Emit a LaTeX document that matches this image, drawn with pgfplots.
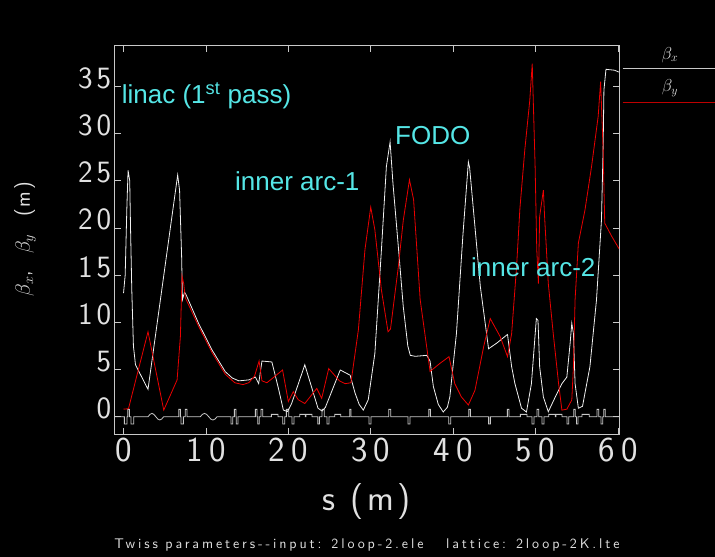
\documentclass[border=0pt]{standalone}
\usepackage{pgfplots}
\pgfplotsset{compat=1.18}
\usepackage{fontspec}
\newfontfamily\annfont{Liberation Sans}
\newfontfamily\xtf{lmsans17-regular.otf}[LetterSpace=18]
\newfontfamily\ytf{lmsans17-regular.otf}[LetterSpace=13]
\newfontfamily\lbf{lmsans17-regular.otf}[LetterSpace=10]
\newfontfamily\ttlf{lmsans10-regular.otf}[LetterSpace=20.5]
\definecolor{cyantext}{RGB}{85,230,230}
\definecolor{framegray}{RGB}{200,200,200}
\definecolor{curvewhite}{RGB}{240,240,240}
\definecolor{curvered}{RGB}{235,0,0}
\definecolor{legred}{RGB}{190,0,0}
\definecolor{labelgray}{RGB}{225,225,225}
\begin{document}
\begin{tikzpicture}
\path[use as bounding box, fill=black] (0pt,0pt) rectangle (715pt,557pt);
\begin{axis}[
  at={(114.8pt,123pt)}, anchor=south west, scale only axis,
  width=504.2pt, height=388.3pt,
  xmin=-1.06, xmax=60.13, ymin=-1.83, ymax=39.3,
  axis line style={draw=framegray, line width=0.9pt},
  xtick={0,10,...,60}, ytick={0,5,...,35},
  tick align=inside, major tick length=6pt,
  tick style={draw=framegray, line width=0.8pt},
  /pgf/number format/assume math mode=true,
  xticklabel style={font=\xtf\fontsize{35}{35}\selectfont, text=labelgray},
  yticklabel style={font=\ytf\fontsize{31}{31}\selectfont, text=labelgray, anchor=base east, yshift=-2pt},
  xlabel={s (m)},
  xlabel style={at={(axis description cs:0.4996,-0.175)}, anchor=center, font=\lbf\fontsize{36}{36}\selectfont, text=labelgray},
  ylabel={$\beta_x$,\ \ $\beta_y$\ \ (m)},
  ylabel style={at={(axis description cs:-0.178,0.502)}, anchor=center, font=\lbf\fontsize{21}{21}\selectfont, text=labelgray},
  clip=true,
]
% lattice element profile
\addplot[framegray, line width=0.8pt] coordinates {
(-1.06,0) (0.10,0)(0.10,-0.78)(0.42,-0.78)(0.42,0)
(0.50,0)(0.50,0.78)(0.71,0.78)(0.71,0)
(0.91,0)(0.91,-0.78)(1.23,-0.78)(1.23,0)
(2.97,0)(3.21,0.25)(3.45,0.35)(3.68,0.25)(3.92,0)(4.16,-0.25)(4.40,-0.35)(4.63,-0.25)(4.87,0)
(6.70,0)(6.70,0.78)(6.90,0.78)(6.90,0)
(6.98,0)(6.98,-0.78)(7.26,-0.78)(7.26,0)
(7.50,0)(7.50,0.78)(7.71,0.78)(7.71,0)
(9.32,0)(9.57,0.25)(9.83,0.35)(10.08,0.25)(10.34,0)(10.59,-0.25)(10.84,-0.35)(11.10,-0.25)(11.35,0)
(13.05,0)(13.05,-0.78)(13.25,-0.78)(13.25,0)
(13.45,0)(13.45,0.78)(13.65,0.78)(13.65,0)
(13.69,0)(13.69,-0.78)(13.90,-0.78)(13.90,0)
(16.00,0)(16.00,0.78)(16.20,0.78)(16.20,0)
(16.28,0)(16.28,-0.78)(16.48,-0.78)(16.48,0)
(16.69,0)(16.69,0.78)(16.89,0.78)(16.89,0)
(17.94,0)(17.94,0.25)(18.75,0.25)(18.75,0)
(19.32,0)(19.32,-0.78)(19.56,-0.78)(19.56,0)
(19.76,0)(19.76,0.78)(20.04,0.78)(20.04,0)
(20.45,0)(20.45,-0.78)(20.69,-0.78)(20.69,0)
(21.38,0)(21.38,0.25)(22.07,0.25)(22.07,0)
(22.15,0)(22.15,0.25)(22.88,0.25)(22.88,0)
(23.56,0)(23.56,-0.78)(23.77,-0.78)(23.77,0)
(24.09,0)(24.09,0.78)(24.37,0.78)(24.37,0)
(24.70,0)(24.70,-0.78)(24.94,-0.78)(24.94,0)
(25.63,0)(25.63,0.25)(26.36,0.25)(26.36,0)
(27.45,0)(27.45,0.78)(27.61,0.78)(27.61,0)
(29.79,0)(29.79,-0.78)(30.04,-0.78)(30.04,0)
(32.18,0)(32.18,0.78)(32.42,0.78)(32.42,0)
(34.53,0)(34.53,-0.78)(34.77,-0.78)(34.77,0)
(37.03,0)(37.03,0.78)(37.24,0.78)(37.24,0)
(39.46,0)(39.46,-0.78)(39.70,-0.78)(39.70,0)
(41.89,0)(41.89,0.78)(42.09,0.78)(42.09,0)
(44.31,0)(44.31,-0.78)(44.52,-0.78)(44.52,0)
(46.58,0)(46.58,0.78)(46.78,0.78)(46.78,0)
(48.16,0)(48.16,0.25)(48.97,0.25)(48.97,0)
(49.58,0)(49.58,-0.78)(49.82,-0.78)(49.82,0)
(50.18,0)(50.18,0.78)(50.38,0.78)(50.38,0)
(50.79,0)(50.79,-0.78)(51.03,-0.78)(51.03,0)
(51.60,0)(51.60,0.25)(52.41,0.25)(52.41,0)
(52.49,0)(52.49,0.25)(53.22,0.25)(53.22,0)
(53.82,0)(53.82,-0.78)(54.02,-0.78)(54.02,0)
(54.63,0)(54.63,0.78)(54.83,0.78)(54.83,0)
(54.96,0)(54.96,-0.78)(55.16,-0.78)(55.16,0)
(55.64,0)(55.64,0.25)(56.53,0.25)(56.53,0)
(57.46,0)(57.46,0.78)(57.67,0.78)(57.67,0)
(57.95,0)(57.95,-0.78)(58.15,-0.78)(58.15,0)
(58.27,0)(58.27,0.78)(58.47,0.78)(58.47,0)
(60.13,0)
};
% beta_x
\addplot[curvewhite, line width=0.8pt] coordinates {
(0.0,13.1)(0.2,15)(0.4,22)(0.55,26.1)(0.75,25)(0.85,20)(1.0,13.5)(1.2,7.5)(1.45,5.5)
(2.97,2.9)(6.57,25.6)(6.8,24.0)(7.05,17)(7.15,12.4)(7.4,13.2)(7.6,12.9)
(9.1,9.9)(10.74,7.07)(12.35,4.77)(13.2,4.1)(14.0,3.8)(15.2,3.9)(16.0,4.2)(16.4,3.5)
(16.8,5.9)(18.0,5.8)(18.8,3.0)(19.4,0.7)(19.9,0.55)(20.4,1.4)(22.0,5.5)
(23.6,0.9)(24.1,0.6)(24.5,1.0)(25.5,3.2)(26.3,4.95)(27.5,4.4)(28.1,2.5)(28.6,1.3)
(29.1,0.7)(29.7,1.8)(30.5,6.7)(31.3,17.7)(31.9,26.5)(32.35,29.1)(32.7,24.7)
(33.35,18.0)(33.95,11.65)(34.5,7.5)(34.8,6.5)(35.4,6.4)(36.8,6.5)(37.2,5.9)
(37.6,3.2)(38.2,1.3)(38.8,0.5)(39.3,1.0)(39.6,2.1)(40.4,8.8)(41.2,19.4)(41.85,27.0)
(42.0,26.4)(42.65,20.1)(43.3,13.8)(44.3,7.2)(45.3,7.8)(46.5,8.65)(46.6,8.7)
(47.1,5.3)(47.5,3.5)(48.3,0.9)(48.9,0.5)(49.5,3.5)(50.1,10.4)(50.3,10.2)(50.5,5.3)
(50.95,2.1)(51.55,0.53)(52.4,2.1)(53.2,3.5)(53.8,4.2)(54.2,7.8)(54.4,9.9)(54.6,8.8)
(54.8,3.5)(55.2,0.9)(55.7,1.1)(56.6,5.3)(57.4,12.4)(58.0,20.8)(58.2,28.3)(58.3,34.6)
(58.55,36.8)(59.6,36.7)(60.13,36.5)
};
% beta_y
\addplot[curvered, line width=0.8pt] coordinates {
(0.0,0.8)(0.6,0.85)(2.97,9.0)(4.88,0.7)(6.5,3.9)(6.9,8.5)(7.1,14.9)(7.3,14.1)(7.5,12.6)
(9.1,9.6)(10.74,6.8)(12.35,4.5)(13.5,3.6)(14.5,3.4)(15.2,3.6)(15.9,4.3)(16.45,5.9)
(16.8,3.8)(17.4,3.6)(18.4,4.3)(19.3,4.95)(20.0,1.6)(20.6,2.65)(21.2,1.8)(22.0,1.4)
(23.45,3.0)(24.05,1.95)(24.9,5.1)(26.2,3.8)(26.9,3.5)(27.6,3.6)(28.5,9.2)(29.3,17.7)
(30.0,22.2)(30.5,19.8)(31.3,13.4)(32.1,9.0)(32.4,9.3)(33.35,15.9)(33.95,20.8)
(34.7,25.1)(35.2,23.0)(36.0,12.4)(37.2,4.8)(38.4,5.65)(39.5,6.36)(40.2,3.5)(41.0,2.1)
(41.85,1.24)(42.65,2.8)(43.7,7.4)(44.5,10.4)(45.7,8.5)(46.6,6.36)(47.1,8.8)(47.7,15.9)
(48.1,22)(48.7,28.3)(49.3,33.5)(49.6,37.4)(49.95,26.5)(50.15,17.7)(50.35,14.1)
(50.5,21.2)(50.95,24.0)(51.1,21.2)(51.55,14.1)(52.15,8.8)(52.8,3.5)(53.2,0.7)(53.8,0.8)
(54.4,1.77)(54.6,5.3)(54.8,12.4)(55.2,18.4)(56.0,21.9)(56.8,26.5)(57.6,31.8)(57.9,35.5)
(58.2,28.3)(58.4,20.5)(59.25,19.1)(60.13,17.8)
};
\end{axis}
% annotations
\node[anchor=base west, inner sep=0pt, text=cyantext, font=\annfont\fontsize{26}{26}\selectfont] at (121.7pt,453.7pt) {linac (1\textsuperscript{st} pass)};
\node[anchor=base west, inner sep=0pt, text=cyantext, font=\annfont\fontsize{26}{26}\selectfont] at (235pt,366pt) {inner arc-1};
\node[anchor=base west, inner sep=0pt, text=cyantext, font=\annfont\fontsize{26}{26}\selectfont] at (395pt,412pt) {FODO};
\node[anchor=base west, inner sep=0pt, text=cyantext, font=\annfont\fontsize{26}{26}\selectfont] at (471pt,280.3pt) {inner arc-2};
% legend
\draw[framegray, line width=1pt] (622.7pt,488pt) -- (715pt,488pt);
\draw[legred, line width=1pt] (622.7pt,454.3pt) -- (715pt,454.3pt);
\node[text=labelgray, font=\fontsize{18}{18}\selectfont] at (670pt,502pt) {$\beta_x$};
\node[text=labelgray, font=\fontsize{18}{18}\selectfont] at (670pt,469pt) {$\beta_y$};
% title
\node[anchor=base, inner sep=0pt, text=labelgray, font=\ttlf\fontsize{14}{14}\selectfont] at (367pt,9pt) {Twiss parameters-{}-input: 2loop-2.ele\ \ \ lattice: 2loop-2K.lte};
\end{tikzpicture}
\end{document}
